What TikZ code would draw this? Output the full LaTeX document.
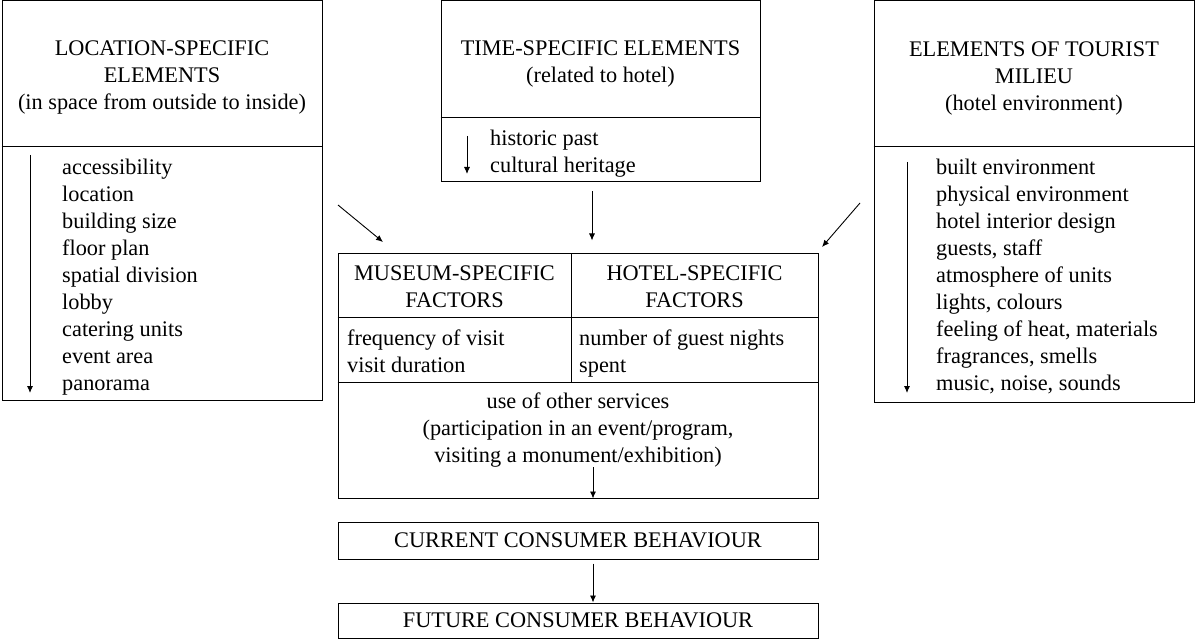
\documentclass[tikz,border=0pt]{standalone}
\usepackage{fontspec}
\setmainfont{Liberation Serif}
\usetikzlibrary{arrows.meta}
\begin{document}
\begin{tikzpicture}[x=1pt,y=-1pt,
  box/.style={draw, line width=1pt, inner sep=0pt, rectangle},
  txt/.style={inner sep=0pt, font=\fontsize{22.3}{27}\selectfont},
  arr/.style={line width=0.9pt, -{Latex[length=7pt,width=6pt]}},
  thin/.style={line width=1pt}]
\useasboundingbox (0,0) rectangle (1195,639);

% boxes
\node[box, minimum width=320pt, minimum height=399pt] (loc) at (162,200.5) {};
\node[box, minimum width=319pt, minimum height=181pt] (tim) at (600.5,91.5) {};
\node[box, minimum width=320pt, minimum height=401pt] (mil) at (1034,201.5) {};
\node[box, minimum width=480pt, minimum height=244pt] (tab) at (578,376) {};
\node[box, txt, minimum width=480pt, minimum height=37pt] (cur) at (578,540.5) {CURRENT CONSUMER BEHAVIOUR};
\node[box, txt, minimum width=480pt, minimum height=35pt] (fut) at (578,620.5) {FUTURE CONSUMER BEHAVIOUR};

% dividers
\draw[thin] (loc.west |- 0,147) -- (loc.east |- 0,147);
\draw[thin] (tim.west |- 0,118) -- (tim.east |- 0,118);
\draw[thin] (mil.west |- 0,147) -- (mil.east |- 0,147);
\draw[thin] (tab.west |- 0,318) -- (tab.east |- 0,318);
\draw[thin] (tab.west |- 0,382) -- (tab.east |- 0,382);
\draw[thin] (tab.north -| 571,0) -- (571,382);

% titles
\node[txt, align=center, anchor=north] (loct) at (162,36) {\strut LOCATION-SPECIFIC\\ELEMENTS\\(in space from outside to inside)};
\node[txt, align=center, anchor=north] (timt) at (600.5,36) {\strut TIME-SPECIFIC ELEMENTS\\(related to hotel)};
\node[txt, align=center, anchor=north] (milt) at (1034,37) {\strut ELEMENTS OF TOURIST\\MILIEU\\(hotel environment)};

% lists
\node[txt, align=left, anchor=north west] (locl) at (62,155) {\strut accessibility\\location\\building size\\floor plan\\spatial division\\lobby\\catering units\\event area\\panorama};
\node[txt, align=left, anchor=north west] (timl) at (490,126) {\strut historic past\\cultural heritage};
\node[txt, align=left, anchor=north west] (mill) at (936,155) {\strut built environment\\physical environment\\hotel interior design\\guests, staff\\atmosphere of units\\lights, colours\\feeling of heat, materials\\fragrances, smells\\music, noise, sounds};

% table texts
\node[txt, align=center, anchor=north] (mush) at (454.5,261) {\strut MUSEUM-SPECIFIC\\FACTORS};
\node[txt, align=center, anchor=north] (hoth) at (694.5,261) {\strut HOTEL-SPECIFIC\\FACTORS};
\node[txt, align=left, anchor=north west] (musl) at (347,326) {\strut frequency of visit\\visit duration};
\node[txt, align=left, anchor=north west] (hotl) at (579,326) {\strut number of guest nights\\spent};
\node[txt, align=center, anchor=north] (oth) at (578,389) {\strut use of other services\\(participation in an event/program,\\visiting a monument/exhibition)};

% arrows inside boxes
\draw[arr] (30,155) -- (30,393);
\draw[arr] (467,136) -- (467,174);
\draw[arr] (907,162) -- (907,393);
\draw[arr] (593,467) -- (tab.south -| 593,0);

% connectors
\coordinate (dl) at (338,205);
\coordinate (dle) at (383,242);
\coordinate (dr) at (860,203);
\coordinate (dre) at (822,247);
\draw[arr] (dl) -- (dle);
\draw[arr] (dr) -- (dre);
\draw[arr] ([yshift=-9pt]tim.south -| 592,0) -- ([yshift=13pt]tab.north -| 592,0);
\draw[arr] ([yshift=-4pt]cur.south -| 593,0) -- (fut.north -| 593,0);
\end{tikzpicture}
\end{document}
